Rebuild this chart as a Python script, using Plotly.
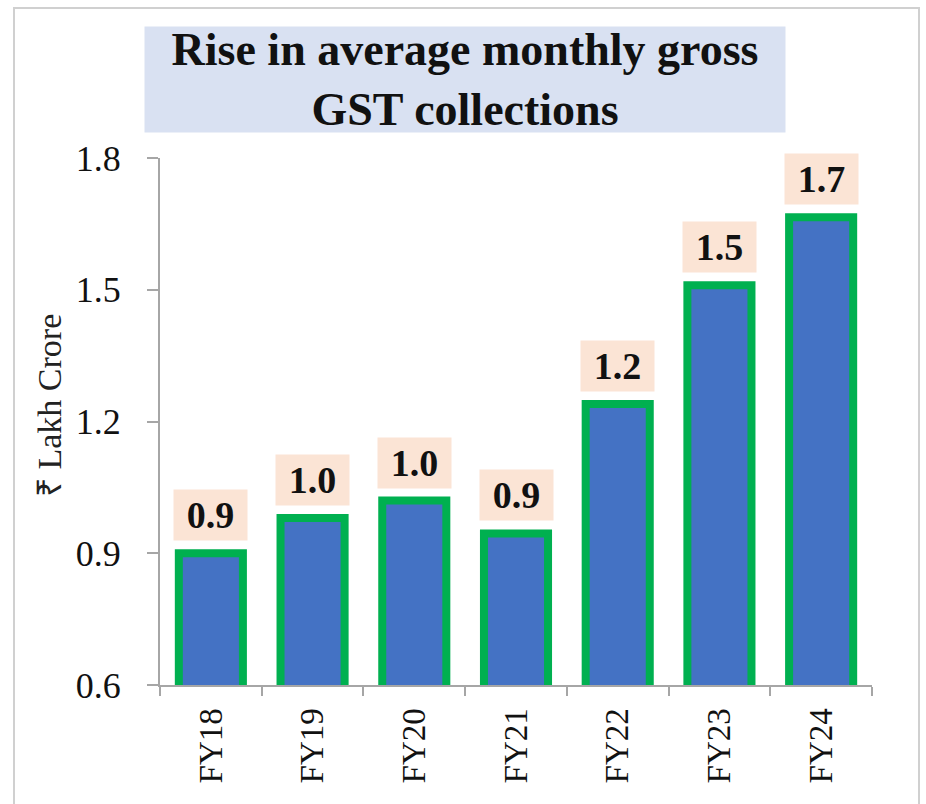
import plotly.graph_objects as go

categories = ["FY18", "FY19", "FY20", "FY21", "FY22", "FY23", "FY24"]
values = [0.90, 0.98, 1.02, 0.945, 1.24, 1.51, 1.665]
value_labels = ["0.9", "1.0", "1.0", "0.9", "1.2", "1.5", "1.7"]
y_ticks = [0.6, 0.9, 1.2, 1.5, 1.8]

W, H = 926, 804
L, R, T, B = 160, 54, 158, 119
pw, ph = W - L - R, H - T - B

def px_x(px):
    return (px - L) / pw

def px_y(py):
    return (H - B - py) / ph

serif = "Liberation Serif, Times New Roman, serif"

fig = go.Figure()
fig.add_trace(go.Bar(
    x=categories, y=values, base=0,
    width=0.63,
    marker=dict(color="#4472C4", line=dict(color="#00B050", width=8)),
    hoverinfo="skip",
))

annotations = []
for c, v, t in zip(categories, values, value_labels):
    annotations.append(dict(
        x=c, y=v, xref="x", yref="y", text="<b>%s</b>" % t,
        showarrow=False, xanchor="center", yanchor="bottom", yshift=12,
        width=73, height=50, bgcolor="#FBE4D5", borderpad=0,
        font=dict(family=serif, size=38, color="#111111"),
    ))

annotations.append(dict(
    x=px_x(465), y=px_y(79.5), xref="paper", yref="paper",
    text="<b>Rise in average monthly gross<br>GST collections</b>",
    showarrow=False, xanchor="center", yanchor="middle",
    width=640, height=105, bgcolor="#D9E1F2", borderpad=0,
    font=dict(family=serif, size=46, color="#111111"),
))

annotations.append(dict(
    x=px_x(49), y=px_y(406), xref="paper", yref="paper",
    text="₹ Lakh Crore", textangle=-90, showarrow=False,
    xanchor="center", yanchor="middle",
    font=dict(family=serif, size=34, color="#222222"),
))

fig.update_layout(
    width=W, height=H,
    margin=dict(l=L, r=R, t=T, b=B, pad=0),
    paper_bgcolor="white", plot_bgcolor="white",
    showlegend=False,
    annotations=annotations,
    shapes=[dict(type="rect", xref="paper", yref="paper",
                 x0=px_x(14), x1=px_x(919), y0=px_y(830), y1=px_y(8),
                 line=dict(color="#D0D0D0", width=2), fillcolor="rgba(0,0,0,0)",
                 layer="below")],
    xaxis=dict(
        type="category", showline=True, linecolor="#A6A6A6", linewidth=2,
        ticks="outside", tickson="boundaries", ticklen=9, tickcolor="#A6A6A6", tickwidth=2,
        tickangle=-90, tickfont=dict(family=serif, size=33, color="#111111"),
        ticklabelstandoff=8, showgrid=False, zeroline=False,
        range=[-0.5, 6.5],
    ),
    yaxis=dict(
        range=[0.6, 1.8], tickvals=y_ticks, tickformat=".1f",
        showline=True, linecolor="#A6A6A6", linewidth=2,
        ticks="outside", ticklen=11, tickcolor="#A6A6A6", tickwidth=2,
        tickfont=dict(family=serif, size=36, color="#111111"),
        ticklabelstandoff=19, showgrid=False, zeroline=False,
    ),
)

fig.write_html("out.html",
               config={"displayModeBar": False, "staticPlot": True},
               post_script="document.body.style.margin='0';document.body.style.overflow='hidden';")
